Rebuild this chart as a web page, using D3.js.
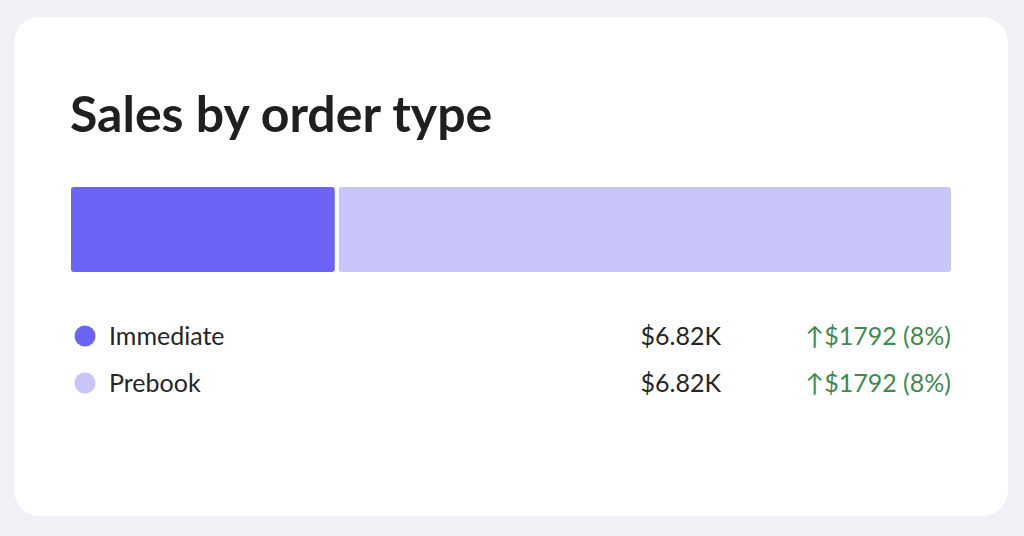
<!DOCTYPE html>
<html><head><meta charset="utf-8">
<script src="https://cdn.jsdelivr.net/npm/d3@7"></script>
<style>body{margin:0;background:#f0f1f7;}svg{display:block;font-family:Lato,sans-serif;}</style>
</head><body><svg id="c" width="1024" height="536"></svg>
<script>
const categories = ["Immediate","Prebook"];
const shares = [30.2, 69.8];
const values = ["$6.82K","$6.82K"];
const changes = ["$1792 (8%)","$1792 (8%)"];
const colors = ["#6c63f7","#c8c5fa"];

const svg = d3.select("#c");
svg.append("rect").attr("x",14).attr("y",17).attr("width",994).attr("height",499).attr("rx",26).attr("fill","#fff");
svg.append("text").attr("x",70).attr("y",132).attr("font-size",50).attr("font-weight",700).attr("fill","#1f1f1f").text("Sales by order type");

const x = d3.scaleLinear().domain([0,d3.sum(shares)]).range([71,951]);
let cum=0;
const segs = shares.map(v=>{const s={x0:cum,x1:cum+v};cum+=v;return s;});
svg.selectAll(".bar").data(segs).join("rect")
  .attr("x",(d,i)=>x(d.x0)+(i?2:0)).attr("y",187)
  .attr("width",(d,i)=>x(d.x1)-x(d.x0)-(i?2:2)).attr("height",85).attr("rx",3)
  .attr("fill",(d,i)=>colors[i]);

const rowY = d3.scalePoint().domain(categories).range([336,383]);
const g = svg.selectAll(".row").data(categories).join("g").attr("transform",d=>`translate(0,${rowY(d)})`);
g.append("circle").attr("cx",85).attr("cy",0).attr("r",10.5).attr("fill",(d,i)=>colors[i]);
g.append("text").attr("x",109).attr("y",9).attr("font-size",25).attr("fill","#262626").text(d=>d);
g.append("text").attr("x",721).attr("y",9).attr("text-anchor","end").attr("font-size",25).attr("fill","#262626").text((d,i)=>values[i]);
g.append("text").attr("x",951).attr("y",9).attr("text-anchor","end").attr("font-size",25).attr("fill","#3f8a4f").text((d,i)=>"\u2191"+changes[i]);
</script></body></html>
